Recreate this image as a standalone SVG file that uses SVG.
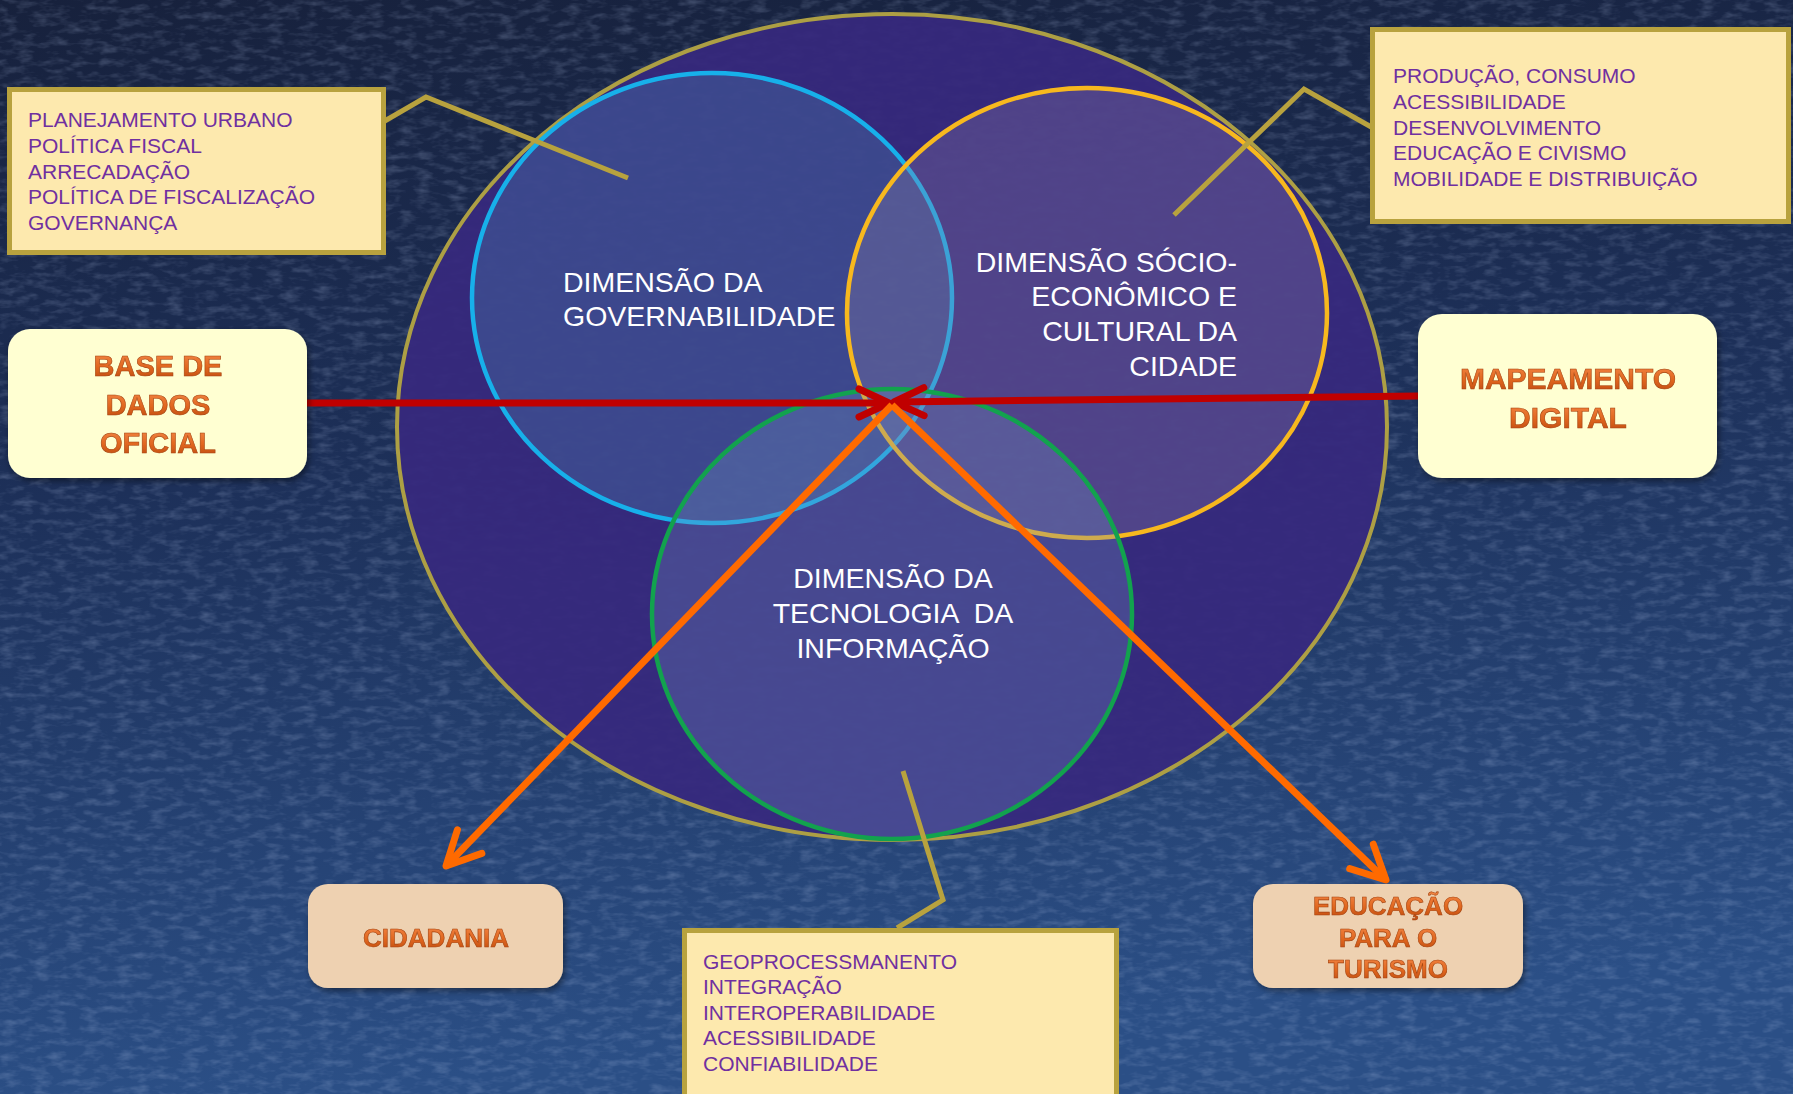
<svg xmlns="http://www.w3.org/2000/svg" width="1793" height="1094" viewBox="0 0 1793 1094">
<defs>
<linearGradient id="bg" x1="0" y1="0" x2="0.15" y2="1">
<stop offset="0" stop-color="#17213c"/>
<stop offset="0.45" stop-color="#1d3059"/>
<stop offset="1" stop-color="#2b4f86"/>
</linearGradient>
<filter id="tex" x="0" y="0" width="100%" height="100%">
<feTurbulence type="fractalNoise" baseFrequency="0.06 0.15" numOctaves="3" seed="7" result="n"/>
<feColorMatrix in="n" type="matrix" values="0 0 0 0 0.5  0 0 0 0 0.6  0 0 0 0 0.85  0 0 0 1.4 -0.62"/>
</filter>
<linearGradient id="ot" x1="0" y1="0" x2="0" y2="1">
<stop offset="0" stop-color="#f58a4a"/>
<stop offset="0.55" stop-color="#e0661f"/>
<stop offset="1" stop-color="#b8480f"/>
</linearGradient>
<filter id="sh" x="-10%" y="-10%" width="125%" height="130%">
<feGaussianBlur in="SourceAlpha" stdDeviation="3"/>
<feOffset dx="2" dy="3" result="b"/>
<feComponentTransfer><feFuncA type="linear" slope="0.45"/></feComponentTransfer>
<feMerge><feMergeNode/><feMergeNode in="SourceGraphic"/></feMerge>
</filter>
<marker id="redHead" markerUnits="userSpaceOnUse" markerWidth="80" markerHeight="80" viewBox="-40 -40 80 80" refX="0" refY="0" orient="auto" overflow="visible">
<path d="M-30,-14 L0,0 L-30,14" fill="none" stroke="#c00000" stroke-width="7" stroke-linecap="round" stroke-linejoin="round"/>
</marker>
<marker id="orHead" markerUnits="userSpaceOnUse" markerWidth="80" markerHeight="80" viewBox="-40 -40 80 80" refX="0" refY="0" orient="auto" overflow="visible">
<path d="M-34,-17 L0,0 L-34,17" fill="none" stroke="#ff6a00" stroke-width="7" stroke-linecap="round" stroke-linejoin="round"/>
</marker>
<style>
.call{fill:#fde9ae;stroke:#b8a23e;stroke-width:5}
.ctxt{font-family:"Liberation Sans",Arial,sans-serif;font-size:21px;fill:#7030a0}
.lead{fill:none;stroke:#b8a23e;stroke-width:5}
.dim{font-family:"Liberation Sans",Arial,sans-serif;font-size:28.5px;fill:#ffffff}
.big{font-family:"Liberation Sans",Arial,sans-serif;font-weight:bold;fill:url(#ot);stroke:#a4420e;stroke-width:0.6;text-anchor:middle}
.boxA{fill:#ffffd2}
.boxB{fill:#eed1b1}
</style>
</defs>
<rect width="1793" height="1094" fill="url(#bg)"/>
<rect width="1793" height="1094" filter="url(#tex)" opacity="0.35"/>

<g id="outer">
<ellipse cx="892" cy="427" rx="495" ry="413" fill="#37297e" fill-opacity="0.93" stroke="#ad9f44" stroke-width="4"/>
</g>
<g id="governabilidade">
<ellipse cx="712" cy="298" rx="240" ry="225" fill="#4a80b0" fill-opacity="0.35" stroke="#17b0ea" stroke-width="4.5"/>
<text class="dim" x="563" y="292">DIMENSÃO DA</text>
<text class="dim" x="563" y="326">GOVERNABILIDADE</text>
</g>
<g id="socioeconomico">
<ellipse cx="1087" cy="313" rx="240" ry="225" fill="#9080a8" fill-opacity="0.3" stroke="#f7b81e" stroke-width="4.5"/>
<g text-anchor="end">
<text class="dim" x="1237" y="272">DIMENSÃO SÓCIO-</text>
<text class="dim" x="1237" y="306">ECONÔMICO E</text>
<text class="dim" x="1237" y="341">CULTURAL DA</text>
<text class="dim" x="1237" y="376">CIDADE</text>
</g>
</g>
<g id="tecnologia">
<ellipse cx="892" cy="614" rx="240" ry="225" fill="#7090c0" fill-opacity="0.3" stroke="#12a24e" stroke-width="4.5"/>
<g text-anchor="middle">
<text class="dim" x="893" y="588">DIMENSÃO DA</text>
<text class="dim" x="893" y="623" xml:space="preserve">TECNOLOGIA  DA</text>
<text class="dim" x="893" y="658">INFORMAÇÃO</text>
</g>
</g>

<g id="callout-governabilidade">
<polyline class="lead" points="383,122 426,97 628,178"/>
<rect class="call" x="9.5" y="89.5" width="374" height="163"/>
<text class="ctxt" x="28" y="127">PLANEJAMENTO URBANO</text>
<text class="ctxt" x="28" y="153">POLÍTICA FISCAL</text>
<text class="ctxt" x="28" y="179">ARRECADAÇÃO</text>
<text class="ctxt" x="28" y="204">POLÍTICA DE FISCALIZAÇÃO</text>
<text class="ctxt" x="28" y="230">GOVERNANÇA</text>
</g>
<g id="callout-socio">
<polyline class="lead" points="1373,128 1304,89 1174,215"/>
<rect class="call" x="1372.5" y="29.5" width="416" height="192"/>
<text class="ctxt" x="1393" y="83">PRODUÇÃO, CONSUMO</text>
<text class="ctxt" x="1393" y="109">ACESSIBILIDADE</text>
<text class="ctxt" x="1393" y="135">DESENVOLVIMENTO</text>
<text class="ctxt" x="1393" y="160">EDUCAÇÃO E CIVISMO</text>
<text class="ctxt" x="1393" y="186">MOBILIDADE E DISTRIBUIÇÃO</text>
</g>
<g id="callout-tecnologia">
<polyline class="lead" points="897,928 943,900 903,771"/>
<rect class="call" x="684.5" y="930.5" width="432" height="200"/>
<text class="ctxt" x="703" y="969">GEOPROCESSMANENTO</text>
<text class="ctxt" x="703" y="994">INTEGRAÇÃO</text>
<text class="ctxt" x="703" y="1020">INTEROPERABILIDADE</text>
<text class="ctxt" x="703" y="1045">ACESSIBILIDADE</text>
<text class="ctxt" x="703" y="1071">CONFIABILIDADE</text>
</g>

<g id="connectors" fill="none">
<line x1="307" y1="403" x2="889" y2="403" stroke="#c00000" stroke-width="7" marker-end="url(#redHead)"/>
<line x1="1418" y1="396" x2="894" y2="402" stroke="#c00000" stroke-width="7" marker-end="url(#redHead)"/>
<line x1="892" y1="405" x2="446" y2="866" stroke="#ff6a00" stroke-width="7" marker-end="url(#orHead)"/>
<line x1="892" y1="405" x2="1386" y2="880" stroke="#ff6a00" stroke-width="7" marker-end="url(#orHead)"/>
</g>

<g id="base-dados" filter="url(#sh)">
<rect class="boxA" x="8" y="329" width="299" height="149" rx="22"/>
<text class="big" x="158" y="376" font-size="29">BASE DE</text>
<text class="big" x="158" y="415" font-size="29">DADOS</text>
<text class="big" x="158" y="453" font-size="29">OFICIAL</text>
</g>
<g id="mapeamento" filter="url(#sh)">
<rect class="boxA" x="1418" y="314" width="299" height="164" rx="24"/>
<text class="big" x="1568" y="389" font-size="30">MAPEAMENTO</text>
<text class="big" x="1568" y="428" font-size="30">DIGITAL</text>
</g>
<g id="cidadania" filter="url(#sh)">
<rect class="boxB" x="308" y="884" width="255" height="104" rx="20"/>
<text class="big" x="436" y="947" font-size="26">CIDADANIA</text>
</g>
<g id="educacao" filter="url(#sh)">
<rect class="boxB" x="1253" y="884" width="270" height="104" rx="20"/>
<text class="big" x="1388" y="915" font-size="26">EDUCAÇÃO</text>
<text class="big" x="1388" y="947" font-size="26">PARA O</text>
<text class="big" x="1388" y="978" font-size="26">TURISMO</text>
</g>
</svg>
